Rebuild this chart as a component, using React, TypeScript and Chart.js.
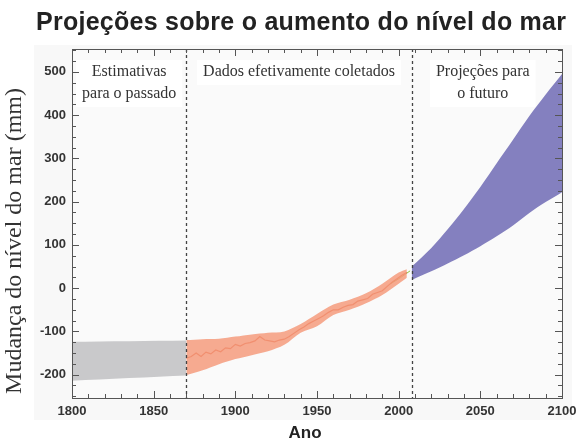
import { useEffect, useRef } from 'react';
import { Chart, registerables } from 'chart.js';

Chart.register(...registerables);

const TITLE = 'Projeções sobre o aumento do nível do mar';
const X_TITLE = 'Ano';
const Y_TITLE = 'Mudança do nível do mar (mm)';

const xTickValues = [1800, 1850, 1900, 1950, 2000, 2050, 2100];
const yTickValues = [-200, -100, 0, 100, 200, 300, 400, 500];
const dividerYears = [1870, 2008];

const annotationLines = [
  ['Estimativas', 'para o passado'],
  ['Dados efetivamente coletados'],
  ['Projeções para', 'o futuro'],
];
const annotationCenterYears = [1835, 1939, 2051.5];

// Past estimates (grey band)
const grayYears = [1800, 1870];
const grayUpper = [-124, -121];
const grayLower = [-214, -202];

// Measured data (red band + mean line)
const redYears = [1870, 1880, 1890, 1900, 1910, 1920, 1930, 1940, 1950, 1960, 1970, 1980, 1990, 2000, 2005];
const redUpper = [-120, -118, -117, -112, -107, -103, -100, -83, -60, -38, -27, -12, 10, 36, 44];
const redLower = [-201, -190, -176, -164, -155, -146, -131, -103, -88, -62, -50, -35, -16, 10, 24];

const meanYears = [1870, 1873, 1876, 1879, 1882, 1885, 1888, 1891, 1894, 1897, 1900, 1903, 1906, 1909, 1912, 1915, 1918, 1921, 1924, 1927, 1930, 1933, 1936, 1939, 1942, 1945, 1948, 1951, 1954, 1957, 1960, 1963, 1966, 1969, 1972, 1975, 1978, 1981, 1984, 1987, 1990, 1993, 1996, 1999, 2002, 2005];
const meanValues = [-162, -158, -150, -158, -148, -152, -143, -147, -138, -140, -130, -134, -128, -126, -122, -112, -120, -122, -124, -120, -118, -112, -104, -96, -90, -82, -76, -70, -64, -56, -50, -50, -44, -40, -38, -30, -27, -24, -14, -10, -6, 4, 14, 22, 30, 36];

// Satellite segment (green)
const greenYears = [1995, 2001, 2007];
const greenValues = [10, 24, 40];

// Projections (blue band)
const blueYears = [2008, 2020, 2030, 2040, 2050, 2060, 2070, 2080, 2090, 2100];
const blueUpper = [50, 93, 136, 183, 234, 289, 343, 398, 448, 495];
const blueLower = [19, 39, 57, 76, 97, 120, 145, 174, 199, 222];

const pts = (xs: number[], ys: number[]) => xs.map((x, i) => ({ x, y: ys[i] }));

const SANS = '"Liberation Sans", Arial, Helvetica, sans-serif';
const SERIF = '"Liberation Serif", "Times New Roman", serif';

const decorPlugin = {
  id: 'decor',
  beforeDraw(chart: any) {
    const ctx = chart.ctx;
    ctx.save();
    ctx.fillStyle = '#ffffff';
    ctx.fillRect(0, 0, chart.width, chart.height);
    ctx.fillStyle = '#f8f8f8';
    ctx.fillRect(34, 45, 538, 375);
    const a = chart.chartArea;
    ctx.fillStyle = '#fafafa';
    ctx.fillRect(a.left, a.top, a.right - a.left, a.bottom - a.top);
    // title
    ctx.fillStyle = '#222';
    ctx.font = `bold 25px ${SANS}`;
    ctx.textAlign = 'left';
    ctx.textBaseline = 'alphabetic';
    const target = 530;
    const w0 = ctx.measureText(TITLE).width;
    const sp = (target - w0) / (TITLE.length - 1);
    let x = 36;
    for (const ch of TITLE) {
      ctx.fillText(ch, x, 30);
      x += ctx.measureText(ch).width + sp;
    }
    // x title
    ctx.textAlign = 'center';
    ctx.font = `bold 17px ${SANS}`;
    ctx.fillText(X_TITLE, 305, 438);
    // y title
    ctx.save();
    ctx.translate(21, 241);
    ctx.rotate(-Math.PI / 2);
    ctx.font = `24px ${SERIF}`;
    ctx.fillStyle = '#333';
    ctx.fillText(Y_TITLE, 0, 0);
    ctx.restore();
    ctx.restore();
  },
  beforeDatasetsDraw(chart: any) {
    const ctx = chart.ctx;
    const xs = chart.scales.x;
    const ys = chart.scales.y;
    ctx.save();
    ctx.font = `16px ${SERIF}`;
    ctx.textAlign = 'center';
    ctx.textBaseline = 'middle';
    const lineH = 22;
    annotationLines.forEach((lines, i) => {
      const cx = xs.getPixelForValue(annotationCenterYears[i]);
      const w = Math.max(...lines.map((l) => ctx.measureText(l).width)) + 12;
      const top = ys.getPixelForValue(ys.max) + 11;
      const h = lines.length * lineH + 3;
      ctx.fillStyle = '#ffffff';
      ctx.fillRect(cx - w / 2, top, w, h);
      ctx.fillStyle = '#333';
      lines.forEach((l, j) => ctx.fillText(l, cx, top + 12 + j * lineH));
    });
    ctx.restore();
  },
  afterDatasetsDraw(chart: any) {
    const ctx = chart.ctx;
    const a = chart.chartArea;
    const xs = chart.scales.x;
    const ys = chart.scales.y;
    ctx.save();
    // dividers
    ctx.strokeStyle = '#444';
    ctx.lineWidth = 1.3;
    ctx.setLineDash([3, 3]);
    dividerYears.forEach((yr) => {
      const px = Math.round(xs.getPixelForValue(yr)) + 0.5;
      ctx.beginPath();
      ctx.moveTo(px, a.top);
      ctx.lineTo(px, a.bottom);
      ctx.stroke();
    });
    ctx.setLineDash([]);
    // frame
    ctx.strokeStyle = '#555';
    ctx.lineWidth = 1;
    ctx.strokeRect(Math.round(a.left) + 0.5, Math.round(a.top) + 0.5, Math.round(a.right - a.left), Math.round(a.bottom - a.top));
    // x ticks (inward, bottom + top)
    ctx.beginPath();
    for (let yr = xs.min; yr <= xs.max; yr += 10) {
      const px = Math.round(xs.getPixelForValue(yr)) + 0.5;
      const len = yr % 50 === 0 ? 7 : 4;
      ctx.moveTo(px, a.bottom);
      ctx.lineTo(px, a.bottom - len);
      ctx.moveTo(px, a.top);
      ctx.lineTo(px, a.top + len);
    }
    // y ticks (inward, left + right)
    for (let v = -250; v <= 550; v += 25) {
      if (v < ys.min || v > ys.max) continue;
      const py = Math.round(ys.getPixelForValue(v)) + 0.5;
      const len = v % 100 === 0 ? 7 : 4;
      ctx.moveTo(a.left, py);
      ctx.lineTo(a.left + len, py);
      ctx.moveTo(a.right, py);
      ctx.lineTo(a.right - len, py);
    }
    ctx.stroke();
    ctx.restore();
  },
};

export default function App() {
  const ref = useRef<HTMLCanvasElement | null>(null);
  useEffect(() => {
    if (!ref.current) return;
    const band = (label: string, data: any[], color: string, fill: any) => ({
      label,
      data,
      borderWidth: 0,
      borderColor: color,
      backgroundColor: color,
      pointRadius: 0,
      fill,
      tension: 0.3,
    });
    const chart = new Chart(ref.current, {
      type: 'line',
      data: {
        datasets: [
          band('grayUpper', pts(grayYears, grayUpper), '#c9c9cb', '+1'),
          band('grayLower', pts(grayYears, grayLower), '#c9c9cb', false),
          band('redUpper', pts(redYears, redUpper), 'rgba(245,155,124,0.85)', '+1'),
          band('redLower', pts(redYears, redLower), 'rgba(245,155,124,0.85)', false),
          {
            label: 'mean',
            data: pts(meanYears, meanValues),
            borderColor: '#dc4a26',
            borderWidth: 1.2,
            pointRadius: 0,
            fill: false,
            tension: 0,
          },
          {
            label: 'satellite',
            data: pts(greenYears, greenValues),
            borderColor: '#8cc63f',
            borderWidth: 1,
            pointRadius: 0,
            fill: false,
            tension: 0,
          },
          band('blueUpper', pts(blueYears, blueUpper), '#8480bf', '+1'),
          band('blueLower', pts(blueYears, blueLower), '#8480bf', false),
        ],
      },
      options: {
        responsive: false,
        animation: false,
        devicePixelRatio: 1,
        layout: { padding: { left: 0, right: 21, top: 49, bottom: 0 } },
        plugins: { legend: { display: false }, tooltip: { enabled: false }, title: { display: false } },
        scales: {
          x: {
            type: 'linear',
            min: 1800,
            max: 2100,
            grid: { display: false, drawTicks: false },
            border: { display: false },
            afterBuildTicks: (s: any) => {
              s.ticks = xTickValues.map((v) => ({ value: v }));
            },
            afterFit: (s: any) => {
              s.height = 45;
            },
            ticks: {
              padding: 6,
              maxRotation: 0,
              autoSkip: false,
              color: '#333',
              font: { family: SANS, size: 13, weight: 'bold' },
              callback: (v: any) => String(v),
            },
          },
          y: {
            type: 'linear',
            min: -254,
            max: 553,
            grid: { display: false, drawTicks: false },
            border: { display: false },
            afterBuildTicks: (s: any) => {
              s.ticks = yTickValues.map((v) => ({ value: v }));
            },
            afterFit: (s: any) => {
              s.width = 72;
            },
            ticks: {
              padding: 6,
              autoSkip: false,
              color: '#333',
              font: { family: SANS, size: 13, weight: 'bold' },
              callback: (v: any) => String(v),
            },
          },
        },
      },
      plugins: [decorPlugin],
    });
    return () => chart.destroy();
  }, []);
  return (
    <div style={{ position: 'absolute', left: 0, top: 0, width: 583, height: 443 }}>
      <canvas ref={ref} width={583} height={443} style={{ width: 583, height: 443 }} />
    </div>
  );
}
